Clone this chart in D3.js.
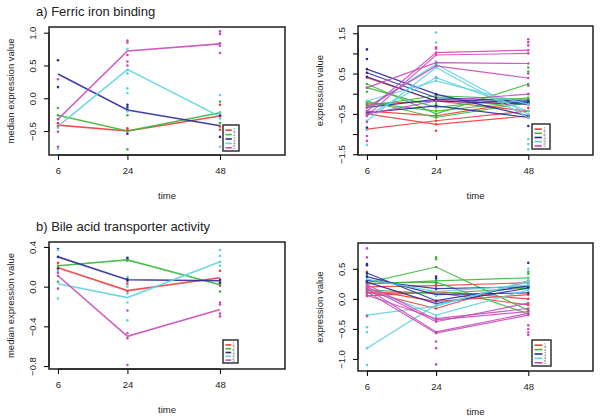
<!DOCTYPE html>
<html><head><meta charset="utf-8">
<script src="https://cdn.jsdelivr.net/npm/d3@7/dist/d3.min.js"></script>
<style>
body{margin:0;background:#fff;}
svg text{font-family:"Liberation Sans",Arial,sans-serif;fill:#222;}
</style></head>
<body><svg id="c" width="600" height="418"></svg>
<script>
// ---------- data ----------
const times = [6, 24, 48];
const clusterLabels = ["1", "2", "3", "4", "5"];
const clusterColors = ["#F03C3C", "#3CB83C", "#2B2B9E", "#5FD3E0", "#C84BB8"];
const titles = ["a) Ferric iron binding", "b) Bile acid transporter activity"];

// Panel a, left: cluster medians [t6,t24,t48] and replicate dots per time
const aMedians = [
  [-0.41, -0.50, -0.27],
  [-0.26, -0.50, -0.22],
  [0.37, -0.18, -0.42],
  [-0.43, 0.44, -0.28],
  [-0.32, 0.72, 0.83]
];
const aMedianDots = [
  [[-0.38, -0.43], [-0.46, -0.48], [-0.10, -0.28, -0.43, -0.48]],
  [[-0.15, -0.26], [-0.26, -0.78], [-0.05, -0.22, -0.38]],
  [[0.58, 0.17], [-0.10, -0.14, -0.18, -0.54], [-0.26, -0.59]],
  [[-0.45, -0.77], [0.75, 0.43, 0.38, 0.15, 0.08, -0.20], [0.05, -0.23, -0.31, -0.74]],
  [[0.29, -0.32, -0.51, -0.74], [0.88, 0.85, 0.66, 0.56, 0.50], [1.02, 0.98, 0.84, 0.80, 0.69]]
];
// Panel a, right: individual gene profiles per cluster and extra dots
const aGenes = [
  [[0.40, -0.18, -0.43], [-0.50, -0.76, -0.55], [-0.88, -0.67, -0.43], [-0.43, -0.55, -0.18], [-0.26, -0.18, -0.26]],
  [[0.24, -0.50, 0.24], [0.15, -0.34, -0.10], [-0.18, -0.59, -0.22], [-0.22, -0.43, -0.18], [-0.30, -0.05, -0.14]],
  [[0.61, -0.01, -0.55], [0.52, -0.10, -0.18], [0.42, -0.18, -0.26], [-0.47, -0.30, -0.59], [-0.34, -0.14, -0.22]],
  [[-0.34, 0.73, -0.51], [-0.55, 0.40, -0.43], [-0.18, 0.32, -0.26], [-0.67, 0.65, -0.59]],
  [[-0.43, 1.02, 1.08], [-0.55, 0.96, 1.00], [0.15, 0.77, 0.75], [-0.34, 0.69, 0.39], [-0.50, -0.18, -0.01]]
];
const aGeneDots = [
  [[], [-0.92], [-0.35]],
  [[0.05], [-0.25], [0.65, 0.55]],
  [[1.10, 0.86, -0.84], [0.40], [-0.80]],
  [[-1.27, -0.90], [1.52, 1.27, 0.80], [-1.13, -1.25, -1.38, 0.00]],
  [[-1.05, -1.17, -0.70], [1.15, 1.12], [1.35, 1.28, 1.20, 0.50, 0.20]]
];

// Panel b, left
const bMedians = [
  [0.19, -0.04, 0.09],
  [0.21, 0.27, 0.02],
  [0.30, 0.07, 0.06],
  [0.03, -0.11, 0.25],
  [0.11, -0.50, -0.23]
];
const bMedianDots = [
  [[0.24, 0.19], [0.03, -0.05], [0.16, 0.01]],
  [[0.21, 0.05], [0.28, 0.26], [0.05, 0.03, -0.05]],
  [[0.38, 0.30, 0.18], [0.29, 0.08, 0.06], [0.07, 0.04]],
  [[0.37, 0.16, -0.12], [0.10, 0.00, -0.07, -0.16, -0.34], [0.37, 0.31, 0.21, 0.25]],
  [[0.14, 0.11, -0.02], [-0.24, -0.47, -0.52, -0.79], [-0.16, -0.18, -0.27, -0.30]]
];
// Panel b, right
const bGenes = [
  [[0.12, -0.16, 0.30], [0.20, 0.22, 0.27], [0.15, -0.04, 0.07], [0.10, 0.10, -0.10], [0.05, 0.12, 0.00]],
  [[0.27, 0.53, -0.19], [0.25, 0.30, 0.35], [0.15, 0.09, 0.18], [0.26, 0.28, -0.25]],
  [[0.43, -0.03, 0.22], [0.37, 0.07, 0.10], [0.31, 0.17, 0.20], [0.28, -0.08, 0.18]],
  [[-0.82, -0.10, 0.28], [-0.27, -0.12, 0.30], [0.18, -0.27, 0.15], [0.33, 0.12, 0.23]],
  [[0.17, -0.55, -0.24], [0.12, -0.57, -0.27], [0.24, -0.35, -0.21], [0.06, -0.33, -0.16], [0.20, -0.38, -0.07]]
];
const bGeneDots = [
  [[0.45], [0.25], [-0.20]],
  [[0.40], [0.69, 0.66], [0.42, 0.45]],
  [[0.56, 0.58], [0.37, 0.34], [0.60]],
  [[-0.47, -0.55, -1.10], [0.05, -0.30], [0.50, 0.34]],
  [[0.84, 0.69, -0.29], [-0.71, -0.82, -1.09], [-0.44, -0.50, -0.56, -0.60]]
];

const aLeftTicks = [-0.5, 0.0, 0.5, 1.0];
const aRightTicks = [-1.5, -1.0, -0.5, 0.0, 0.5, 1.0, 1.5];
const aRightLabels = [-1.5, -0.5, 0.5, 1.5];
const bLeftTicks = [-0.8, -0.4, 0.0, 0.4];
const bRightTicks = [-1.0, -0.5, 0.0, 0.5];

// ---------- drawing ----------
const svg = d3.select("#c");
const fmt = v => (v < 0 ? "\u2212" : "") + d3.format(".1f")(Math.abs(v));

function panel(o) {
  const x = d3.scaleLinear().domain([3.67, 64.85]).range([o.x0, o.x1]);
  const y = d3.scaleLinear().domain(o.ydom).range([o.y1, o.y0]);
  const g = svg.append("g");

  // axes
  const xa = g.append("g").attr("transform", `translate(0,${o.y1})`)
    .call(d3.axisBottom(x).tickValues(times).tickSize(5).tickPadding(7).tickFormat(d3.format("d")));
  const ya = g.append("g").attr("transform", `translate(${o.x0},0)`)
    .call(d3.axisLeft(y).tickValues(o.ticks).tickSize(5).tickFormat(v => o.labels.includes(v) ? fmt(v) : ""));
  [xa, ya].forEach(a => {
    a.select(".domain").remove();
    a.selectAll("line").attr("stroke", "#111").attr("stroke-width", 1.1);
    a.selectAll("text").style("font-size", "9.5px").attr("fill", "#222");
  });
  ya.selectAll("text").attr("x", 0).attr("y", -16.5).attr("dy", "0.35em")
    .attr("text-anchor", "middle").attr("transform", "rotate(-90)");
  // axis lines from first to last tick (R style)
  g.append("line").attr("x1", x(times[0])).attr("x2", x(times[2])).attr("y1", o.y1).attr("y2", o.y1).attr("stroke", "#111");
  g.append("line").attr("y1", y(o.ticks[0])).attr("y2", y(o.ticks[o.ticks.length - 1])).attr("x1", o.x0).attr("x2", o.x0).attr("stroke", "#111");

  // lines
  const line = d3.line().x((d, i) => x(times[i])).y(d => y(d));
  o.series.forEach((ser, ci) => {
    const list = o.median ? [ser] : ser;
    list.forEach(vals => {
      g.append("path").attr("d", line(vals)).attr("fill", "none")
        .attr("stroke", clusterColors[ci]).attr("stroke-width", o.median ? 1.6 : 1.2)
        .attr("stroke-opacity", 0.9);
    });
  });
  // dots
  o.dots.forEach((ser, ci) => {
    ser.forEach((vals, ti) => {
      vals.forEach(v => g.append("circle").attr("cx", x(times[ti])).attr("cy", y(v)).attr("r", 1.3).attr("fill", clusterColors[ci]));
    });
    if (!o.median) o.series[ci].forEach(vals => vals.forEach((v, ti) =>
      g.append("circle").attr("cx", x(times[ti])).attr("cy", y(v)).attr("r", 1.3).attr("fill", clusterColors[ci])));
  });

  // box
  g.append("rect").attr("x", o.x0).attr("y", o.y0).attr("width", o.x1 - o.x0).attr("height", o.y1 - o.y0)
    .attr("fill", "none").attr("stroke", "#111").attr("stroke-width", 1.4);

  // legend
  const L = o.leg;
  const lg = g.append("g");
  lg.append("rect").attr("x", L[0]).attr("y", L[1]).attr("width", L[2]).attr("height", L[3])
    .attr("fill", "#fff").attr("stroke", "#333").attr("stroke-width", 1.5);
  const step = (L[3] - 4) / clusterLabels.length;
  clusterLabels.forEach((lab, i) => {
    const yy = L[1] + 3 + step * (i + 0.5);
    lg.append("line").attr("x1", L[0] + 2.5).attr("x2", L[0] + L[2] * 0.55).attr("y1", yy).attr("y2", yy)
      .attr("stroke", clusterColors[i]).attr("stroke-width", 1.6);
    lg.append("text").attr("x", L[0] + L[2] * 0.62).attr("y", yy).attr("dy", "0.35em")
      .style("font-size", "4.5px").attr("fill", clusterColors[i]).attr("fill-opacity", 0.6).text(lab);
  });

  // titles
  g.append("text").attr("x", (o.x0 + o.x1) / 2).attr("y", o.y1 + 44).attr("text-anchor", "middle")
    .style("font-size", "9.5px").text("time");
  g.append("text").attr("transform", `translate(${o.x0 - 35},${(o.y0 + o.y1) / 2}) rotate(-90)`)
    .attr("text-anchor", "middle").style("font-size", "9.5px").text(o.ylab);
  if (o.title) svg.append("text").attr("x", 36).attr("y", o.y0 - 11).style("font-size", "13px").text(o.title);
}

panel({x0: 49, x1: 285, y0: 27, y1: 155, ydom: [-0.866, 1.087], ticks: aLeftTicks, labels: aLeftTicks,
  series: aMedians, dots: aMedianDots, median: true, leg: [223, 125, 16, 26],
  ylab: "median expression value", title: titles[0]});
panel({x0: 358, x1: 593, y0: 26, y1: 155, ydom: [-1.52, 1.68], ticks: aRightTicks, labels: aRightLabels,
  series: aGenes, dots: aGeneDots, median: false, leg: [532, 124, 18, 25], ylab: "expression value"});
panel({x0: 49, x1: 285, y0: 242, y1: 369, ydom: [-0.83, 0.45], ticks: bLeftTicks, labels: bLeftTicks,
  series: bMedians, dots: bMedianDots, median: true, leg: [223, 340, 15, 23],
  ylab: "median expression value", title: titles[1]});
panel({x0: 358, x1: 593, y0: 243, y1: 371, ydom: [-1.2, 0.93], ticks: bRightTicks, labels: bRightTicks,
  series: bGenes, dots: bGeneDots, median: false, leg: [532, 340, 19, 26], ylab: "expression value"});
</script></body></html>
